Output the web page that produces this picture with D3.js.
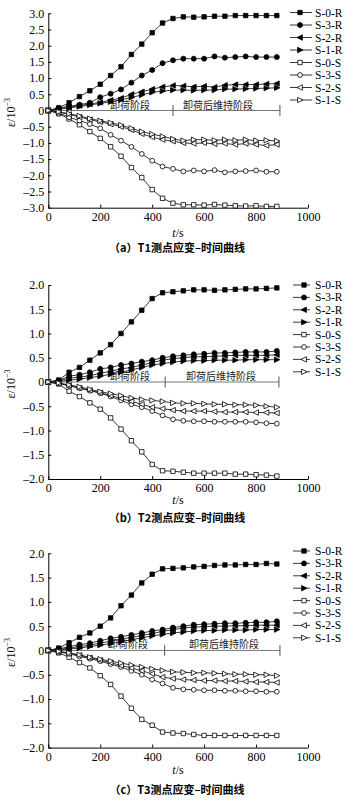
<!DOCTYPE html>
<html><head><meta charset="utf-8">
<script src="https://cdn.jsdelivr.net/npm/d3@7"></script>
<style>
html,body{margin:0;padding:0;background:#fff;}
svg{display:block;}
</style>
</head><body>
<svg id="c" width="358" height="804"></svg>
<script>
// ---------- DATA ----------
const times = [0,40,80,120,160,200,240,280,320,360,400,440,480,520,560,600,640,680,720,760,800,840,880];
const seriesNames = ["S-0-R","S-3-R","S-2-R","S-1-R","S-0-S","S-3-S","S-2-S","S-1-S"];
const xTicks = [0,200,400,600,800,1000];
const yTicksA = [-3,-2.5,-2,-1.5,-1,-0.5,0,0.5,1,1.5,2,2.5,3];
const yTicksBC = [-2,-1.5,-1,-0.5,0,0.5,1,1.5,2];
const captions = ["（a）T1测点应变–时间曲线","（b）T2测点应变–时间曲线","（c）T3测点应变–时间曲线"];
const stageLabels = ["卸荷阶段","卸荷后维持阶段"];
const stageBounds = [[0,480,892],[0,450,888],[0,448,892]];

// Panel (a) T1
const a_S0R = [0,0.08,0.24,0.43,0.61,0.81,1.08,1.35,1.73,2.05,2.40,2.70,2.84,2.89,2.88,2.89,2.91,2.91,2.93,2.93,2.93,2.93,2.93];
const a_S3R = [0,0.08,0.13,0.18,0.24,0.41,0.52,0.65,0.86,1.08,1.25,1.46,1.55,1.60,1.60,1.60,1.67,1.63,1.65,1.67,1.65,1.65,1.65];
const a_S2R = [0,0.05,0.10,0.15,0.20,0.25,0.32,0.38,0.50,0.58,0.66,0.73,0.77,0.76,0.73,0.75,0.72,0.78,0.80,0.80,0.80,0.82,0.83];
const a_S1R = [0,0.04,0.08,0.12,0.17,0.22,0.27,0.33,0.40,0.48,0.56,0.60,0.63,0.63,0.62,0.63,0.63,0.66,0.66,0.67,0.68,0.69,0.70];
const a_S0S = [0,-0.10,-0.26,-0.44,-0.65,-0.86,-1.12,-1.41,-1.76,-2.07,-2.44,-2.71,-2.86,-2.91,-2.91,-2.92,-2.90,-2.92,-2.94,-2.95,-2.94,-2.96,-2.96];
const a_S3S = [0,-0.07,-0.21,-0.31,-0.42,-0.55,-0.75,-0.93,-1.12,-1.34,-1.55,-1.73,-1.80,-1.88,-1.85,-1.88,-1.84,-1.91,-1.88,-1.87,-1.85,-1.89,-1.89];
const a_S2S = [0,-0.05,-0.12,-0.20,-0.28,-0.35,-0.42,-0.50,-0.60,-0.72,-0.82,-0.90,-0.95,-1.00,-1.02,-1.00,-1.03,-1.02,-1.05,-1.02,-1.05,-1.08,-1.05];
const a_S1S = [0,-0.04,-0.10,-0.17,-0.25,-0.32,-0.38,-0.45,-0.55,-0.65,-0.73,-0.80,-0.88,-0.93,-0.90,-0.90,-0.92,-0.90,-0.92,-0.90,-0.93,-0.92,-0.94];

// Panel (b) T2
const b_S0R = [0,0.04,0.20,0.30,0.45,0.60,0.77,1.00,1.24,1.48,1.72,1.84,1.86,1.88,1.90,1.90,1.89,1.90,1.91,1.92,1.92,1.93,1.94];
const b_S3R = [0,0.03,0.12,0.15,0.20,0.27,0.30,0.35,0.38,0.42,0.45,0.50,0.53,0.55,0.57,0.58,0.60,0.60,0.61,0.62,0.62,0.62,0.64];
const b_S2R = [0,0.02,0.08,0.10,0.13,0.18,0.22,0.27,0.30,0.35,0.40,0.45,0.48,0.50,0.52,0.52,0.53,0.54,0.55,0.55,0.55,0.55,0.56];
const b_S1R = [0,0.01,0.04,0.06,0.09,0.12,0.16,0.20,0.25,0.30,0.35,0.38,0.41,0.43,0.44,0.44,0.45,0.45,0.45,0.46,0.46,0.46,0.46];
const b_S0S = [0,-0.04,-0.19,-0.30,-0.43,-0.56,-0.74,-0.97,-1.21,-1.44,-1.70,-1.83,-1.84,-1.86,-1.88,-1.88,-1.88,-1.88,-1.90,-1.90,-1.91,-1.92,-1.94];
const b_S3S = [0,-0.03,-0.08,-0.13,-0.18,-0.23,-0.30,-0.38,-0.46,-0.52,-0.60,-0.69,-0.77,-0.80,-0.81,-0.81,-0.82,-0.82,-0.82,-0.82,-0.83,-0.85,-0.86];
const b_S2S = [0,-0.03,-0.07,-0.12,-0.17,-0.22,-0.28,-0.34,-0.40,-0.46,-0.52,-0.55,-0.58,-0.60,-0.60,-0.60,-0.61,-0.62,-0.62,-0.62,-0.63,-0.63,-0.64];
const b_S1S = [0,-0.02,-0.06,-0.10,-0.15,-0.20,-0.24,-0.28,-0.33,-0.36,-0.38,-0.40,-0.43,-0.44,-0.44,-0.45,-0.46,-0.46,-0.47,-0.47,-0.48,-0.50,-0.52];

// Panel (c) T3
const c_S0R = [0,0.05,0.16,0.27,0.36,0.50,0.67,0.92,1.14,1.39,1.57,1.68,1.69,1.70,1.72,1.73,1.75,1.76,1.76,1.77,1.77,1.79,1.78];
const c_S3R = [0,0.03,0.08,0.12,0.15,0.20,0.25,0.28,0.32,0.36,0.40,0.43,0.47,0.50,0.53,0.54,0.55,0.56,0.56,0.57,0.58,0.58,0.60];
const c_S2R = [0,0.02,0.05,0.08,0.11,0.15,0.19,0.23,0.27,0.31,0.35,0.39,0.43,0.46,0.48,0.49,0.50,0.50,0.51,0.51,0.52,0.52,0.52];
const c_S1R = [0,0.01,0.03,0.05,0.08,0.11,0.14,0.18,0.22,0.26,0.30,0.33,0.36,0.38,0.40,0.41,0.41,0.42,0.42,0.42,0.43,0.43,0.43];
const c_S0S = [0,-0.05,-0.14,-0.25,-0.36,-0.52,-0.70,-0.94,-1.19,-1.42,-1.54,-1.68,-1.70,-1.71,-1.73,-1.75,-1.75,-1.75,-1.75,-1.75,-1.75,-1.75,-1.75];
const c_S3S = [0,-0.03,-0.07,-0.12,-0.17,-0.22,-0.28,-0.34,-0.42,-0.50,-0.60,-0.68,-0.77,-0.80,-0.81,-0.82,-0.82,-0.83,-0.83,-0.84,-0.84,-0.85,-0.85];
const c_S2S = [0,-0.02,-0.06,-0.10,-0.15,-0.20,-0.25,-0.31,-0.36,-0.42,-0.48,-0.55,-0.58,-0.60,-0.61,-0.62,-0.62,-0.63,-0.63,-0.64,-0.65,-0.65,-0.66];
const c_S1S = [0,-0.02,-0.05,-0.09,-0.14,-0.18,-0.22,-0.26,-0.30,-0.34,-0.38,-0.41,-0.44,-0.45,-0.46,-0.46,-0.47,-0.48,-0.49,-0.49,-0.50,-0.50,-0.52];

const panelData = [
  [a_S0R,a_S3R,a_S2R,a_S1R,a_S0S,a_S3S,a_S2S,a_S1S],
  [b_S0R,b_S3R,b_S2R,b_S1R,b_S0S,b_S3S,b_S2S,b_S1S],
  [c_S0R,c_S3R,c_S2R,c_S1R,c_S0S,c_S3S,c_S2S,c_S1S]
];

// ---------- LAYOUT ----------
const panels = [
  {yTop:13.3, yBot:207.7, dom:[-3,3], ticks:yTicksA, tickOff:13.5, tsOff:29, capOff:44.5, legY:12.5, legStep:12.5, legX0:290, legX1:312, legM:300, stageLabX:[130,218]},
  {yTop:285, yBot:479, dom:[-2,2], ticks:yTicksBC, tickOff:12.8, tsOff:24.5, capOff:43, legY:285, legStep:12.4, legX0:293, legX1:310, legM:304, stageLabX:[130,221]},
  {yTop:553.3, yBot:747.6, dom:[-2,2], ticks:yTicksBC, tickOff:13.5, tsOff:26.5, capOff:46.5, legY:551, legStep:12.4, legX0:293, legX1:310, legM:304, stageLabX:[128,224]}
];
const X0 = 48.3, X1 = 308;
const serif = "'Liberation Serif','Times New Roman',serif";
const cjk = "'Noto Sans CJK SC','Liberation Serif',serif";

const svg = d3.select("#c");

// marker shapes
const shapes = ["square","circle","left","right","square","circle","left","right"];
const filled = [true,true,true,true,false,false,false,false];
function markerPath(shape){
  const s = 2.2;
  if(shape==="square") return `M${-s},${-s}H${s}V${s}H${-s}Z`;
  if(shape==="left") return `M-3,0L2.4,-2.7L2.4,2.7Z`;
  if(shape==="right") return `M3,0L-2.4,-2.7L-2.4,2.7Z`;
  return null;
}
function drawMarker(g, shape, fill, x, y){
  if(shape==="circle"){
    g.append("circle").attr("cx",x).attr("cy",y).attr("r",fill?2.5:2.4)
      .attr("fill",fill?"#000":"#fff").attr("stroke","#000").attr("stroke-width",0.8);
  } else {
    g.append("path").attr("d",markerPath(shape)).attr("transform",`translate(${x},${y})`)
      .attr("fill",fill?"#000":"#fff").attr("stroke","#000").attr("stroke-width",0.8);
  }
}

panels.forEach((p, pi) => {
  const x = d3.scaleLinear().domain([0,1000]).range([X0,X1]);
  const y = d3.scaleLinear().domain(p.dom).range([p.yBot,p.yTop]);
  const g = svg.append("g");

  // stage annotation on zero line
  const sb = stageBounds[pi];
  const y0 = y(0);
  g.append("line").attr("x1",x(sb[0])).attr("x2",x(sb[2])).attr("y1",y0).attr("y2",y0)
    .attr("stroke","#777").attr("stroke-width",1);
  [sb[1], sb[2]].forEach(t => {
    g.append("line").attr("x1",x(t)).attr("x2",x(t)).attr("y1",y0-5.5).attr("y2",y0+5.5)
      .attr("stroke","#555").attr("stroke-width",1);
  });
  stageLabels.forEach((lab,i)=>{
    g.append("text").attr("x",p.stageLabX[i]).attr("y",y0-2).attr("text-anchor","middle")
      .attr("font-family",cjk).attr("font-size",10).attr("fill","#222").text(lab);
  });

  // axes
  const yAxis = d3.axisLeft(y).tickValues(p.ticks).tickSizeInner(-3).tickSizeOuter(0).tickPadding(4)
    .tickFormat(d => d===0 ? "0" : d3.format(".1f")(d).replace("-","–").replace("−","–"));
  const ga = g.append("g").attr("transform",`translate(${X0},0)`).call(yAxis);
  ga.selectAll("text").attr("font-family",serif).attr("font-size",12).attr("fill","#000");
  ga.select(".domain").attr("stroke","#000");

  const xAxis = d3.axisBottom(x).tickValues(xTicks).tickSizeInner(-3).tickSizeOuter(0).tickPadding(0)
    .tickFormat(d3.format("d"));
  const gx = g.append("g").attr("transform",`translate(0,${p.yBot})`).call(xAxis);
  gx.selectAll("text").attr("font-family",serif).attr("font-size",12).attr("fill","#000")
    .attr("dy",null).attr("y",p.tickOff);
  gx.select(".domain").attr("stroke","#000");

  // axis titles
  g.append("text").attr("transform",`translate(15,${(p.yTop+p.yBot)/2+2}) rotate(-90)`)
    .attr("text-anchor","middle").attr("font-family",serif).attr("font-size",12)
    .html("ε/10<tspan dy='-5' font-size='8'>−3</tspan>");
  g.append("text").attr("x",178).attr("y",p.yBot+p.tsOff).attr("text-anchor","middle")
    .attr("font-family",serif).attr("font-size",12)
    .html("<tspan font-style='italic'>t</tspan>/s");
  g.append("text").attr("x",177).attr("y",p.yBot+p.capOff).attr("text-anchor","middle")
    .attr("font-family",cjk).attr("font-size",11).attr("font-weight","bold").text(captions[pi]);

  // series
  const line = d3.line().x((d,i)=>x(times[i])).y(d=>y(d));
  panelData[pi].forEach((vals, si) => {
    g.append("path").datum(vals).attr("d",line).attr("fill","none")
      .attr("stroke","#222").attr("stroke-width",0.9);
  });
  panelData[pi].forEach((vals, si) => {
    const gm = g.append("g");
    vals.forEach((v,i)=> drawMarker(gm, shapes[si], filled[si], x(times[i]), y(v)));
  });

  // legend
  seriesNames.forEach((nm, si) => {
    const ly = p.legY + si*p.legStep;
    g.append("line").attr("x1",p.legX0).attr("x2",p.legX1).attr("y1",ly).attr("y2",ly)
      .attr("stroke","#222").attr("stroke-width",0.9);
    drawMarker(g, shapes[si], filled[si], p.legM, ly);
    g.append("text").attr("x",315).attr("y",ly+4).attr("font-family",serif).attr("font-size",11.5)
      .attr("fill","#000").text(nm);
  });
});
</script>
</body></html>
